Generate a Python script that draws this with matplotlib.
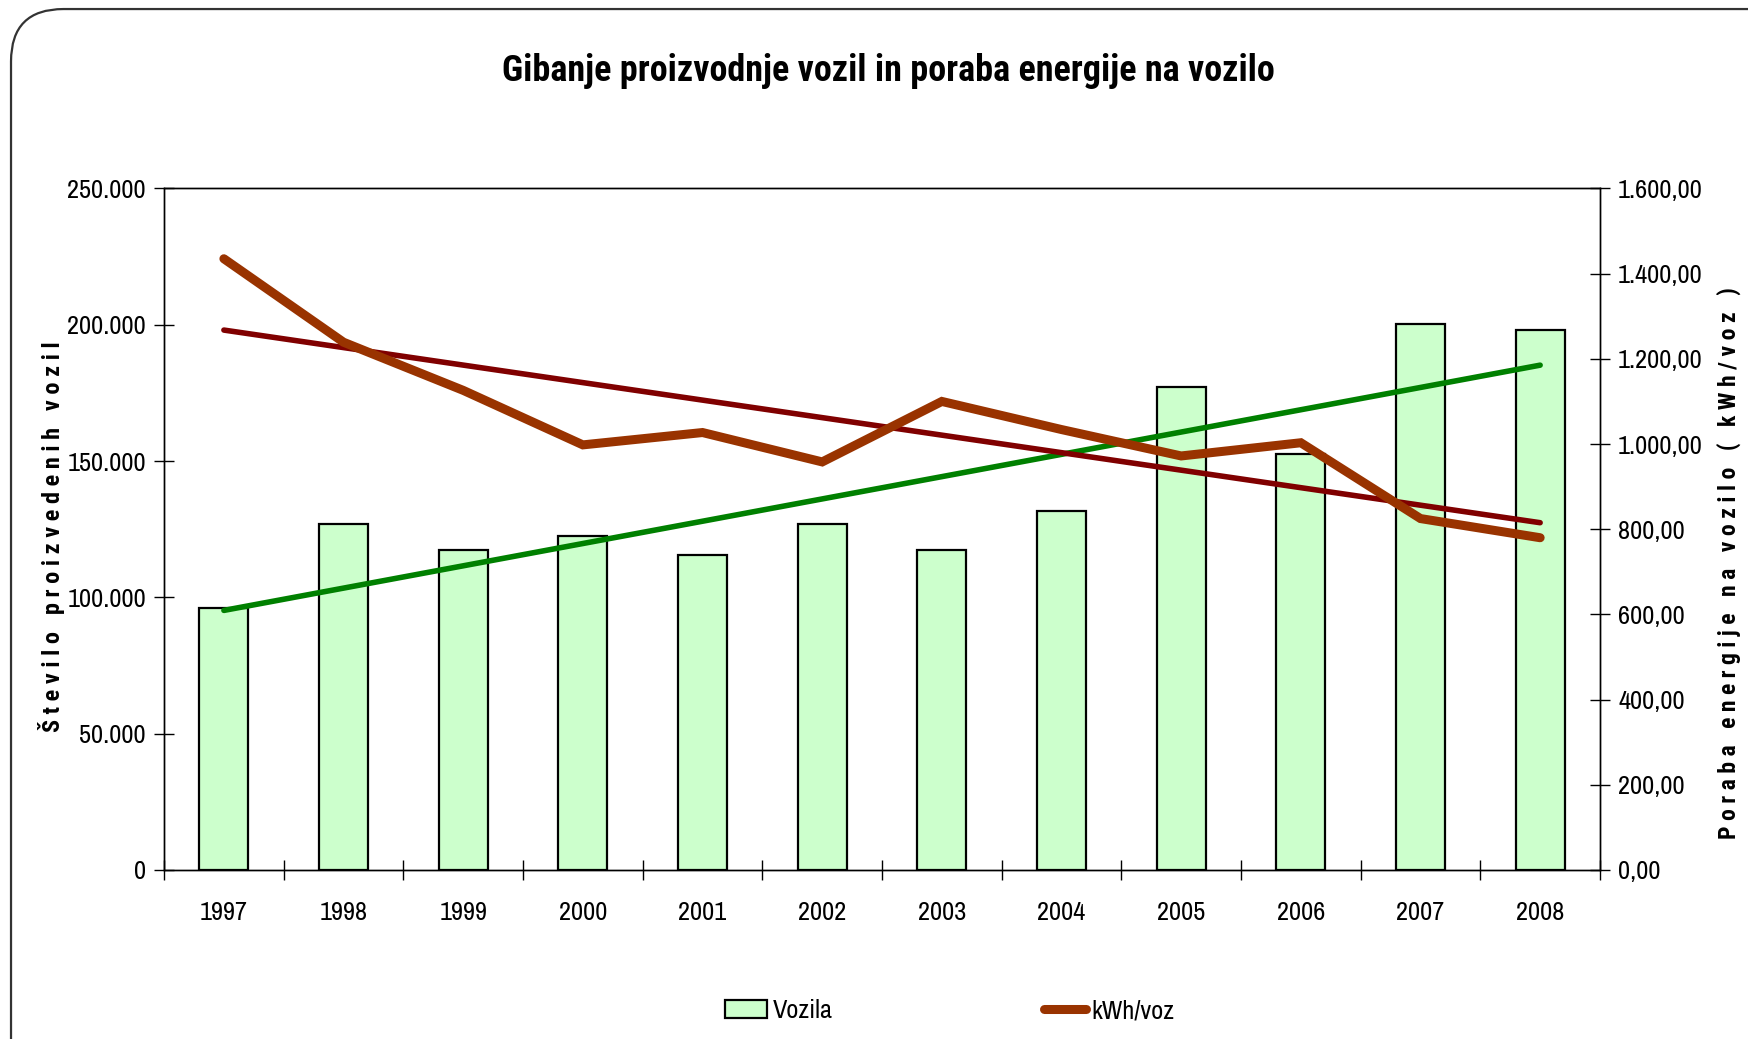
import matplotlib
matplotlib.use("Agg")
import matplotlib.pyplot as plt
import numpy as np
from matplotlib.patches import FancyBboxPatch, Patch
from matplotlib.lines import Line2D
from matplotlib.ticker import FuncFormatter

# data
years = ["1997", "1998", "1999", "2000", "2001", "2002",
         "2003", "2004", "2005", "2006", "2007", "2008"]
vozila = [96000, 127000, 117500, 122400, 115400, 127000,
          117400, 131800, 177200, 152600, 200100, 198000]
kwh_voz = [1435, 1239, 1126, 998, 1027, 958,
           1100, 1034, 972, 1003, 825, 780]

narrow = ["Archivo Narrow", "Roboto Condensed", "DejaVu Sans"]
narrow_b = ["Roboto Condensed", "PT Sans Narrow", "DejaVu Sans"]
plt.rcParams["font.family"] = narrow

fig = plt.figure(figsize=(17.49, 10.39), dpi=100)
ax = fig.add_axes([0.0938, 0.1627, 0.821, 0.6559])
ax2 = ax.twinx()

x = np.arange(len(years))
ax.bar(x, vozila, width=0.41, color="#CCFFCC", edgecolor="black",
       linewidth=1.6, zorder=2)

# linear trendlines, like excel
k1 = np.polyfit(x, vozila, 1)
k2 = np.polyfit(x, kwh_voz, 1)
ax.plot(x, np.polyval(k1, x), color="#008000", lw=4, solid_capstyle="round", zorder=3)
ax2.plot(x, np.polyval(k2, x), color="#800000", lw=4, solid_capstyle="round", zorder=3)
ax2.plot(x, kwh_voz, color="#993300", lw=6.5, solid_capstyle="round",
         solid_joinstyle="miter", zorder=4)

ax.set_xlim(-0.5, len(years) - 0.5)
ax.set_ylim(0, 250000)
ax2.set_ylim(0, 1600)
ax.set_yticks(np.arange(0, 250001, 50000))
ax2.set_yticks(np.arange(0, 1601, 200))
ax.yaxis.set_major_formatter(FuncFormatter(lambda v, p: f"{int(v):,}".replace(",", ".")))
ax2.yaxis.set_major_formatter(FuncFormatter(
    lambda v, p: f"{v:,.2f}".replace(",", "X").replace(".", ",").replace("X", ".")))

ax.set_xticks(np.arange(-0.5, len(years), 1))
ax.set_xticklabels([])
ax.set_xticks(x, minor=True)
ax.set_xticklabels(years, minor=True, fontsize=19)
ax.tick_params(axis="x", which="major", direction="inout", length=14, width=1)
ax.tick_params(axis="x", which="minor", length=0, pad=22)
ax.tick_params(axis="y", direction="inout", length=14, width=1, labelsize=19, pad=6)
ax2.tick_params(axis="y", direction="inout", length=14, width=1, labelsize=19, pad=6)

for a in (ax, ax2):
    for s in a.spines.values():
        s.set_linewidth(1)

ax.set_ylabel(" ".join("Število proizvedenih vozil"), fontsize=17.5,
              fontweight="bold", family=narrow_b)
ax.yaxis.set_label_coords(-0.069, 0.489)
ax2.set_ylabel(" ".join("Poraba energije na vozilo ( kWh/voz )"), fontsize=17,
               fontweight="bold", family=narrow_b)
ax2.yaxis.set_label_coords(1.081, 0.45)

fig.text(0.508, 0.932, "Gibanje proizvodnje vozil in poraba energije na vozilo",
         ha="center", va="center", fontsize=26, fontweight="bold", family=narrow_b)

handles = [Patch(facecolor="#CCFFCC", edgecolor="black", linewidth=1.6),
           Line2D([], [], color="#993300", lw=6.5, solid_capstyle="round")]
fig.legend(handles, ["Vozila", "kWh/voz"], loc="center", bbox_to_anchor=(0.543, 0.027),
           ncol=2, frameon=False, prop={"size": 19},
           handlelength=1.6, handletextpad=0.2, columnspacing=8)

# rounded outer frame, cropped on the right and bottom
frame = FancyBboxPatch((0.0063, -0.06), 1.05, 1.0513,
                       boxstyle="round,pad=0,rounding_size=0.03",
                       transform=fig.transFigure, fill=False,
                       edgecolor="#333333", linewidth=1.6, mutation_aspect=1.68)
fig.patches.append(frame)

fig.savefig("out.png", dpi=100)
